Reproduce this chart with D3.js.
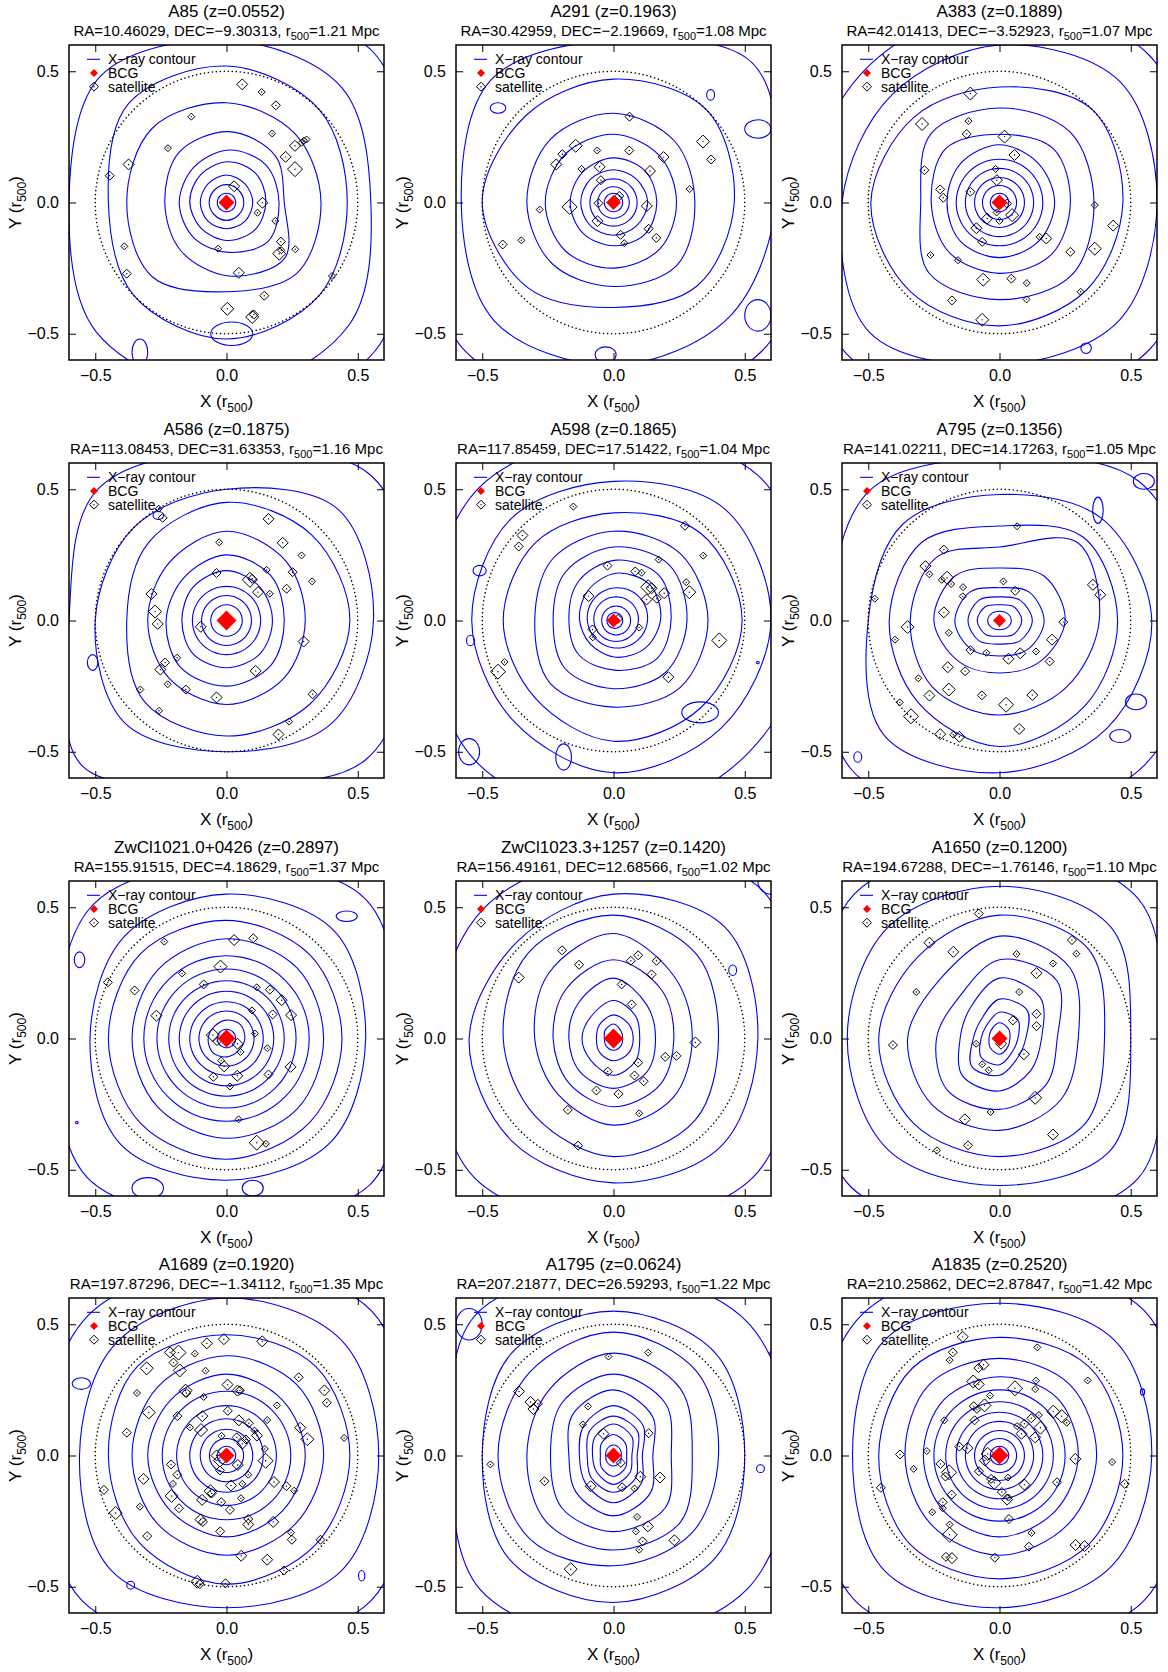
<!doctype html>
<html>
  <head>
    <meta charset="utf-8">
    <title>Cluster X-ray contours</title>
    <script src="https://cdnjs.cloudflare.com/ajax/libs/d3/7.8.5/d3.min.js"></script>
    <style>
      body { margin: 0; background: #fff; }
      svg text { font-family: "Liberation Sans", Arial, sans-serif; fill: #000; }
    </style>
  </head>
  <body>
    <div id="chart"></div>
    <script>
      // panel header values
      const clusterNames = ["A85", "A291", "A383", "A586", "A598", "A795",
        "ZwCl1021.0+0426", "ZwCl1023.3+1257", "A1650", "A1689", "A1795", "A1835"];
      const redshifts = ["0.0552", "0.1963", "0.1889", "0.1875", "0.1865", "0.1356",
        "0.2897", "0.1420", "0.1200", "0.1920", "0.0624", "0.2520"];
      const raValues = ["10.46029", "30.42959", "42.01413", "113.08453", "117.85459", "141.02211",
        "155.91515", "156.49161", "194.67288", "197.87296", "207.21877", "210.25862"];
      const decValues = ["−9.30313", "−2.19669", "−3.52923", "31.63353", "17.51422", "14.17263",
        "4.18629", "12.68566", "−1.76146", "−1.34112", "26.59293", "2.87847"];
      const r500Values = ["1.21", "1.08", "1.07", "1.16", "1.04", "1.05",
        "1.37", "1.02", "1.10", "1.35", "1.22", "1.42"];
      const bcgSizes = [8, 7.5, 8, 10, 7, 6.5, 9, 10, 8, 8, 8, 9];
      const tickValues = [-0.5, 0, 0.5];

      // satellites: [x, y, size class]
      const sat85 = [[0.06,0.45,2],[0.134,0.421,1],[0.188,0.37,1.5],[-0.134,0.327,1],[0.174,0.263,1],
        [0.261,0.216,2],[0.286,0.228,1],[0.295,0.235,1],[0.305,0.24,1],[-0.223,0.207,1],[0.225,0.174,2],
        [0.261,0.127,3],[-0.373,0.145,2],[-0.445,0.102,1.5],[0.029,0.062,2],[0.137,-0.001,2],
        [0.118,-0.039,1],[0.186,-0.07,1],[0.207,-0.149,1.5],[0.201,-0.195,2.5],[0.209,-0.182,1],
        [0.262,-0.178,1],[-0.032,-0.176,1],[-0.389,-0.167,1],[-0.38,-0.271,1.5],[0.047,-0.268,2],
        [0.402,-0.28,1],[0.144,-0.355,1.5],[0.003,-0.405,2.5],[0.098,-0.436,2.5],[0.104,-0.427,1.5]];
      const sat291 = [[0.061,0.327,1.5],[-0.144,0.216,2.5],[-0.195,0.184,1.5],[-0.062,0.198,1],
        [0.06,0.198,1.5],[0.191,0.173,2],[-0.218,0.145,2],[-0.122,0.128,1],[-0.053,0.136,2],
        [0.139,0.12,2],[-0.048,0.085,1.5],[0.341,0.232,2.5],[0.372,0.164,1.5],[0.29,0.051,1],
        [0.022,0.025,1.5],[-0.057,-0.003,1.5],[-0.167,-0.017,3],[-0.281,-0.027,1],[0.127,-0.013,2],
        [-0.061,-0.071,2],[0.134,-0.1,1.5],[0.027,-0.123,1.5],[0.041,-0.155,1],[0.163,-0.135,1.5],
        [-0.422,-0.16,1.5],[-0.351,-0.144,1]];
      const sat383 = [[-0.111,0.415,2.5],[-0.295,0.299,2.5],[-0.118,0.31,1],[-0.125,0.261,1.5],
        [0.019,0.251,2.5],[0.057,0.181,2],[-0.286,0.123,1.5],[-0.015,0.128,1],[-0.01,0.085,2],
        [-0.226,0.05,1.5],[-0.214,0.018,1.5],[-0.111,0.041,1.5],[0.029,-0.004,1.5],[-0.011,-0.038,1],
        [-0.047,-0.061,2],[0.048,-0.048,2.5],[0,-0.07,1],[-0.088,-0.098,2],[-0.066,-0.15,1.5],
        [0.153,-0.131,1],[0.178,-0.137,2],[0.363,-0.01,1],[0.433,-0.088,2],[0.363,-0.176,2.5],
        [0.27,-0.188,1.5],[-0.263,-0.2,1],[-0.158,-0.22,1],[-0.062,-0.294,2.5],[0.045,-0.29,1.5],
        [0.104,-0.307,1],[0.103,-0.369,1],[0.309,-0.34,1],[-0.181,-0.373,1.5],[-0.066,-0.447,2.5]];
      const sat586 = [[-0.258,0.426,1],[-0.243,0.391,1.5],[0.16,0.387,2],[0.214,0.296,2],
        [-0.028,0.298,1],[0.286,0.248,1],[-0.038,0.181,1.5],[0.153,0.193,1],[0.252,0.184,1.5],
        [0.089,0.155,3],[0.098,0.159,1.5],[0.326,0.149,1],[0.229,0.121,1.5],[0.12,0.108,2],
        [0.165,0.102,1],[-0.286,0.101,2],[-0.272,0.034,2.5],[-0.262,-0.013,2],[-0.098,-0.024,2],
        [0.294,-0.08,2],[-0.234,-0.16,1.5],[-0.188,-0.142,1],[-0.252,-0.187,2],[0.111,-0.192,2],
        [-0.224,-0.243,1],[-0.155,-0.263,1.5],[-0.038,-0.293,2],[-0.328,-0.263,1],[-0.257,-0.344,1],
        [0.328,-0.281,1.5],[0.239,-0.385,1],[0.198,-0.434,2]];
      const sat598 = [[-0.153,0.434,1],[-0.347,0.324,2],[-0.361,0.282,1.5],[0.272,0.361,1.5],
        [0.342,0.247,1],[0.172,0.232,1],[-0.023,0.209,1.5],[0.083,0.187,1.5],[0.107,0.182,1],
        [0.277,0.146,1],[0.132,0.127,3],[0.145,0.123,2],[0.193,0.104,2],[0.289,0.108,2.5],
        [-0.095,0.093,2],[0.126,0.08,2],[0.165,0.083,1.5],[0.017,0.006,1.5],[-0.08,-0.034,1.5],
        [-0.079,-0.064,1],[0.098,-0.027,1],[0.403,-0.076,3],[-0.415,-0.158,1],[-0.44,-0.195,3],
        [0.209,-0.216,2]];
      const sat795 = [[0.067,0.359,1],[-0.212,0.27,1.5],[-0.282,0.207,2],[-0.267,0.176,1],
        [-0.2,0.163,2.5],[-0.22,0.155,1],[-0.184,0.139,1],[-0.139,0.127,1],[-0.14,0.092,1],
        [0.015,0.149,1],[0.06,0.113,1.5],[0.356,0.136,2],[0.384,0.098,2],[-0.475,0.083,1],
        [-0.212,0.031,2],[0.243,-0.006,1.5],[-0.35,-0.025,2.5],[-0.193,-0.047,1],[-0.398,-0.073,1],
        [0.2,-0.073,2],[-0.111,-0.113,1.5],[-0.05,-0.123,1],[0.034,-0.146,2],[0.079,-0.125,2],
        [0.139,-0.118,1],[0.191,-0.156,1.5],[-0.197,-0.178,2],[-0.131,-0.193,1.5],[-0.309,-0.22,1],
        [-0.193,-0.263,2.5],[-0.267,-0.286,2],[-0.067,-0.285,1.5],[0.125,-0.284,2],[0.025,-0.321,3],
        [-0.38,-0.312,1],[-0.337,-0.365,3],[0.075,-0.413,2],[-0.226,-0.433,2],[-0.176,-0.435,1],
        [-0.153,-0.443,2]];
      const sat1021 = [[0.029,0.375,2],[0.102,0.382,1.5],[-0.237,0.369,1],[-0.023,0.274,2.5],
        [-0.169,0.248,1],[-0.087,0.206,1.5],[-0.452,0.214,1.5],[-0.35,0.183,1.5],[0.115,0.195,1],
        [0.165,0.186,1.5],[0.21,0.146,2],[0.097,0.107,1],[0.176,0.092,1.5],[0.246,0.089,2],
        [-0.267,0.087,2],[0.108,0.019,1],[-0.052,0.013,2.5],[-0.036,-0.01,1.5],[0.042,-0.02,2],
        [0.053,-0.051,1],[0.156,-0.037,1],[-0.02,-0.084,1],[-0.009,-0.106,2],[0.244,-0.108,2],
        [-0.05,-0.146,1.5],[0.041,-0.142,2],[0.16,-0.137,1.5],[0.013,-0.183,1],[0.046,-0.308,1],
        [0.115,-0.397,3],[0.15,-0.401,1]];
      const sat1023 = [[-0.196,0.336,1.5],[-0.131,0.281,1.5],[0.094,0.317,1.5],[0.066,0.296,1.5],
        [0.164,0.296,1.5],[0.145,0.244,1.5],[-0.361,0.232,2],[0.031,0.206,1.5],[0.069,0.13,1.5],
        [0.312,-0.015,2],[0.197,-0.07,1.5],[0.24,-0.066,1.5],[0.094,-0.092,1.5],[-0.022,-0.126,1.5],
        [0.08,-0.141,1.5],[0.115,-0.163,1.5],[-0.065,-0.198,1.5],[0.019,-0.211,1.5],[-0.174,-0.272,1.5],
        [0.098,-0.285,1],[-0.135,-0.408,1.5]];
      const sat1650 = [[-0.079,0.476,1.5],[-0.267,0.365,2],[-0.176,0.33,2],[0.276,0.375,1.5],
        [0.293,0.323,1],[0.065,0.322,1],[0.204,0.286,1],[0.141,0.249,2],[-0.317,0.177,1],
        [0.075,0.177,1],[0.141,0.094,1.5],[0.051,0.069,1.5],[0.141,0.047,1.5],[-0.406,-0.025,1.5],
        [-0.089,-0.02,1],[0.006,-0.02,2],[0.093,-0.06,2],[-0.066,-0.098,1],[-0.041,-0.121,1],
        [0.136,-0.226,2.5],[-0.034,-0.28,1],[-0.132,-0.308,2],[0.204,-0.366,2],[-0.12,-0.407,1.5],
        [-0.238,-0.426,1]];
      const sat1689 = [[-0.01,0.443,2],[-0.075,0.427,2],[0.136,0.435,2],[-0.215,0.393,2],
        [-0.183,0.392,3],[-0.121,0.388,1],[-0.202,0.354,1.5],[-0.304,0.332,2.5],[-0.178,0.324,2.5],
        [-0.08,0.323,1],[0.275,0.298,1.5],[0.004,0.27,2],[-0.156,0.247,2.5],[-0.153,0.238,1.5],
        [0.042,0.247,2],[0.051,0.248,1.5],[-0.341,0.238,1],[-0.087,0.223,1],[0.373,0.248,2],
        [0.382,0.201,1.5],[0.192,0.191,1],[0.005,0.17,1.5],[-0.296,0.164,2.5],[-0.187,0.15,1.5],
        [-0.092,0.15,2],[0.047,0.134,2],[0.085,0.123,1.5],[0.155,0.135,1],[-0.139,0.107,1],
        [-0.097,0.097,2.5],[0.107,0.095,1],[0.116,0.076,2],[0.281,0.106,2],[0.308,0.062,2.5],
        [-0.38,0.087,1.5],[0.448,0.067,1],[-0.019,0.075,1],[0.039,0.069,1.5],[0.074,0.061,1.5],
        [0.06,0.045,2],[0.146,0.025,1],[0.149,-0.02,3],[-0.038,0,2],[-0.025,-0.019,2.5],
        [-0.025,-0.057,1.5],[0.043,-0.036,2],[-0.211,-0.034,1.5],[-0.187,-0.073,1.5],[-0.316,-0.089,2],
        [0.083,-0.073,1],[-0.204,-0.108,1],[0.017,-0.114,2],[0.06,-0.108,1],[0.181,-0.101,2],
        [0.228,-0.117,1.5],[0.258,-0.134,1],[-0.467,-0.131,1.5],[-0.209,-0.154,2.5],[-0.061,-0.136,2.5],
        [-0.056,-0.144,1.5],[-0.093,-0.169,2],[-0.02,-0.178,1.5],[0.055,-0.163,1],[-0.33,-0.195,1],
        [-0.181,-0.201,1.5],[0.013,-0.207,1.5],[-0.422,-0.219,2.5],[-0.099,-0.244,2],[-0.09,-0.253,1.5],
        [0.083,-0.242,1.5],[0.083,-0.263,2],[0.178,-0.253,2],[-0.024,-0.289,1.5],[0.246,-0.294,1],
        [0.249,-0.321,1.5],[-0.302,-0.307,1.5],[0.358,-0.321,1.5],[0.056,-0.382,2],[0.155,-0.397,2],
        [0.219,-0.438,1.5],[-0.111,-0.481,2.5],[-0.102,-0.49,1.5],[-0.004,-0.487,1.5]];
      const sat1795 = [[-0.019,0.377,1],[0.132,0.392,1],[-0.36,0.244,2],[-0.316,0.204,2],
        [-0.305,0.177,2],[-0.288,0.197,1.5],[-0.097,0.187,1],[-0.117,0.118,1],[-0.038,0.083,2],
        [0.134,0.085,1.5],[0.028,-0.028,1.5],[-0.469,-0.034,1],[-0.263,-0.098,1.5],[-0.087,-0.117,2],
        [0.033,-0.121,1.5],[0.08,-0.126,1],[0.102,-0.081,2],[0.177,-0.084,2],[0.09,-0.234,1],
        [0.131,-0.27,2],[0.085,-0.289,1],[0.111,-0.327,1.5],[0.098,-0.359,1],[0.232,-0.323,2],
        [-0.163,-0.433,2.5]];
      const sat1835 = [[-0.14,0.452,2],[-0.178,0.393,1.5],[-0.19,0.363,1],[0.144,0.412,1],
        [-0.061,0.346,2],[-0.08,0.333,1.5],[-0.1,0.282,2.5],[-0.079,0.271,2],[0.059,0.256,3],
        [0.139,0.285,1],[0.136,0.253,1],[0.336,0.286,1],[-0.036,0.228,1],[-0.057,0.191,2.5],
        [-0.098,0.188,1.5],[-0.086,0.174,1],[-0.21,0.134,1],[-0.095,0.134,1.5],[0.205,0.167,2.5],
        [0.237,0.15,2.5],[0.256,0.125,1],[0.121,0.142,1.5],[0.15,0.154,1],[0.095,0.121,1.5],
        [0.067,0.112,1],[0.156,0.106,2.5],[0.084,0.083,2],[0.136,0.069,2],[-0.153,0.034,1.5],
        [-0.122,0.028,2],[-0.277,0.017,1],[-0.379,0.004,1.5],[-0.045,0.006,2.5],[-0.056,-0.019,2],
        [0.289,-0.013,2],[0.429,-0.025,1],[-0.327,-0.051,1],[-0.225,-0.032,1.5],[-0.192,-0.064,3],
        [-0.206,-0.08,1.5],[-0.078,-0.06,1.5],[-0.032,-0.089,1.5],[-0.02,-0.104,2.5],[0.032,-0.084,1],
        [0.095,-0.111,2],[0.219,-0.102,1.5],[0.477,-0.108,1.5],[-0.452,-0.123,1.5],[-0.182,-0.149,1.5],
        [0.009,-0.139,1.5],[0.029,-0.168,2],[0.034,-0.16,1],[-0.216,-0.178,1.5],[-0.216,-0.201,1],
        [-0.256,-0.216,1],[0.036,-0.242,1.5],[-0.19,-0.263,1],[-0.19,-0.302,3],[0.122,-0.295,1],
        [0.112,-0.347,1.5],[0.29,-0.341,2],[0.324,-0.345,2],[-0.204,-0.386,1.5],[-0.181,-0.391,2],
        [-0.018,-0.389,1.5]];

      // X-ray contours: [cx, cy, radii going round from east, counter-clockwise]
      const con85 = [[0,0,.035],[0,0,.066,.066,.068,.066,.066,.066,.068,.066],[0,0,.1,.1,.105,.1,.1,.1,.1,.1],
        [0.005,0.005,.145,.15,.15,.145,.145,.145,.15,.15],[0.01,0,.19,.2,.2,.19,.19,.19,.19,.21],
        [0.01,0,.21,.25,.27,.27,.245,.26,.28,.3],[0,0,.36,.37,.38,.4,.38,.4,.34,.38],
        [0,0,.46,.5,.52,.53,.45,.5,.52,.5],[0,0,.55,.62,.62,.68,.6,.7,.72,.66],
        [0,0,.68,.8,.75,.85,.72,.85,.8,.8]];
      const con291 = [[0,0,.035],[0,0,.06],[0,0,.09],[0,0,.13,.125,.125,.125,.125,.125,.125,.125],
        [0,0,.165,.17,.17,.165,.165,.165,.165,.17],[0,0,.24,.25,.26,.26,.26,.26,.25,.25],
        [0,0,.31,.33,.34,.34,.33,.33,.32,.34],[0,0,.46,.5,.47,.47,.5,.46,.4,.45],
        [0,0,.62,.75,.62,.66,.58,.64,.62,.62],[0,0,.75,.85,.78,.85,.72,.8,.75,.8]];
      const con383 = [[0,0,.035],[0,0,.065],[0,0,.095],[0,0,.13],[0,0,.165],
        [0,0,.21,.21,.22,.21,.2,.21,.21,.21],[0,0,.27,.29,.26,.29,.26,.27,.27,.28],
        [0,0,.36,.38,.36,.37,.3,.38,.37,.39],[0,0,.47,.5,.44,.46,.49,.48,.47,.47],
        [0,0,.6,.65,.6,.58,.6,.7,.62,.64],[0,0,.75,.8,.75,.72,.74,.82,.76,.8]];
      const con586 = [[0,0,.06],[0,0,.095],[0,0,.13],[0,0,.175,.18,.19,.18,.17,.18,.18,.18],
        [0,0,.22,.24,.25,.23,.23,.25,.25,.24],[0,0,.3,.32,.34,.31,.3,.31,.32,.31],
        [0,0,.47,.46,.45,.42,.38,.44,.44,.45],[0,0,.56,.6,.5,.5,.5,.55,.5,.56],
        [0,0,.72,.78,.65,.7,.6,.78,.62,.75]];
      const con598 = [[0.005,0,.03],[0.01,0,.055],[0.01,0.005,.085],[0.015,0.01,.115],
        [0.01,0.01,.17,.18,.17,.15,.14,.14,.15,.16],[0.01,0.01,.21,.23,.22,.2,.18,.2,.2,.22],
        [0,0,.28,.3,.28,.26,.23,.26,.26,.28],[0,0,.36,.36,.34,.33,.3,.34,.33,.36],
        [0,0,.49,.47,.41,.42,.42,.42,.46,.47],[0,0,.6,.6,.53,.55,.54,.54,.58,.58],
        [0,0,.75,.78,.7,.72,.7,.75,.75,.72]];
      const con795 = [[0,0,.045,.04,.035,.04,.045,.04,.035,.04],[0,0,.085,.075,.06,.075,.085,.075,.06,.075],
        [0,0,.125,.11,.09,.11,.12,.11,.09,.11],[0,-0.005,.17,.16,.13,.16,.17,.15,.13,.15],
        [0,0,.25,.24,.2,.24,.25,.22,.2,.22],[0,0,.38,.42,.28,.34,.34,.36,.36,.36],
        [0,0,.45,.45,.36,.42,.42,.44,.48,.46],[0,0,.58,.55,.48,.52,.5,.62,.58,.58],
        [0,0,.75,.75,.62,.7,.65,.8,.75,.78]];
      const con1021 = [[0,0,.035],[0,0,.07,.075,.07,.065,.07,.075,.07,.065],[0,0,.105],
        [0,0,.14],[0,0,.18],[0,0,.22],[0,0,.265],[0,0,.315],[0,0,.37,.38,.38,.37,.36,.37,.38,.38],
        [0,0,.44,.45,.45,.46,.45,.46,.46,.45],[0,0,.53,.58,.55,.55,.52,.57,.54,.56],
        [0,0,.66,.75,.67,.72,.65,.75,.68,.78]];
      const con1023 = [[0,0,.035,.04,.055,.045,.035,.04,.045,.04],[0,0,.075,.08,.09,.075,.065,.075,.085,.08],
        [0,0,.1,.12,.145,.12,.12,.12,.14,.12],[0,0,.16,.18,.23,.19,.17,.18,.19,.18],
        [0,0,.23,.26,.3,.26,.23,.24,.26,.25],[0,0,.3,.33,.4,.35,.3,.3,.33,.32],
        [0,0,.4,.45,.47,.46,.42,.42,.45,.44],[0,0,.55,.6,.55,.52,.55,.55,.55,.58],
        [0,0,.7,.8,.7,.7,.68,.75,.7,.75]];
      const con1650 = [[0,0,.04,.05,.06,.045,.04,.05,.06,.045],[0,0,.07,.1,.1,.07,.07,.1,.1,.07],
        [0,0,.1,.15,.15,.1,.1,.15,.14,.1],[0,0,.16,.22,.23,.16,.15,.2,.2,.17],
        [0,0,.22,.31,.3,.22,.24,.28,.27,.25],[0,0,.3,.38,.39,.32,.35,.36,.35,.33],
        [0,0,.4,.48,.47,.44,.46,.46,.45,.46],[0,0,.5,.6,.58,.6,.58,.6,.56,.6],
        [0,0,.62,.75,.72,.78,.7,.8,.7,.75]];
      const con1689 = [[0,0,.035],[0,0,.065],[0,0,.1],[0,0,.14],[0,0,.19],[0,0,.245],
        [0,0,.3,.3,.31,.3,.3,.3,.31,.3],[0,0,.37,.38,.38,.37,.36,.37,.38,.37],
        [0,0,.47,.48,.46,.48,.45,.47,.49,.48],[0,0,.58,.62,.6,.6,.56,.62,.58,.62],
        [0,0,.7,.78,.72,.75,.7,.78,.72,.78]];
      const con1795 = [[0,0,.03,.035,.04,.035,.03,.035,.04,.035],[0,0,.05,.065,.08,.065,.05,.065,.08,.065],
        [0,0,.07,.1,.12,.1,.08,.09,.11,.09],[0,0,.09,.13,.15,.13,.1,.12,.14,.12],
        [0,0,.11,.16,.19,.16,.13,.15,.18,.15],[0,0,.15,.21,.25,.22,.17,.2,.23,.2],
        [0,0,.22,.28,.31,.28,.24,.28,.29,.28],[0,0,.3,.36,.39,.35,.33,.36,.36,.36],
        [0,0,.4,.45,.47,.45,.44,.45,.42,.42],[0,0,.5,.55,.55,.55,.5,.56,.56,.55],
        [0,0,.68,.72,.7,.75,.62,.72,.7,.72]];
      const con1835 = [[0,0,.035],[0,0,.065],[0,0,.095],[0,0,.13],[0,0,.165],[0,0,.205],
        [0,0,.25],[0,0,.3,.31,.3,.3,.29,.3,.31,.3],[0,0,.37,.38,.37,.38,.36,.37,.38,.37],
        [0,0,.47,.48,.45,.47,.46,.48,.47,.48],[0,0,.58,.62,.58,.62,.56,.62,.58,.6],
        [0,0,.7,.78,.72,.75,.7,.78,.72,.78]];

      // small isolated contours: [cx, cy, rx, ry]
      const isl85 = [[0.02,-0.5,.08,.045],[-0.33,-0.57,.03,.05]];
      const isl291 = [[-0.44,0.36,.03,.02],[0.37,0.41,.015,.02],[0.55,0.28,.05,.035],[0.55,-0.43,.05,.06],[-0.03,-0.58,.04,.03]];
      const isl383 = [[0.33,-0.555,.02,.02]];
      const isl586 = [[-0.51,-0.16,.02,.03],[-0.26,0.4,.02,.015]];
      const isl598 = [[-0.51,0.19,.025,.02],[-0.545,-0.076,.015,.02],[0.55,-0.16,.005,.005],
        [-0.19,-0.52,.03,.05],[0.33,-0.35,.07,.04],[-0.55,-0.5,.04,.05]];
      const isl795 = [[0.52,-0.31,.04,.03],[0.46,-0.44,.04,.025],[-0.54,-0.52,.015,.02],[0.375,0.42,.02,.05],[0.55,0.53,.04,.03]];
      const isl1021 = [[0.458,0.466,.04,.02],[-0.56,0.3,.02,.03],[-0.3,-0.57,.06,.04],[0.1,-0.57,.04,.03],[-0.57,-0.32,.005,.005]];
      const isl1023 = [[0.454,0.26,.015,.02],[0.6,0.6,.05,.05]];
      const isl1650 = [];
      const isl1689 = [[-0.553,0.274,.035,.022],[-0.365,-0.494,.015,.015],[0.515,-0.458,.012,.02]];
      const isl1795 = [[0.56,-0.05,.015,.015],[0.6,0.39,.005,.005],[-0.55,0.5,.05,.06]];
      const isl1835 = [[0.545,0.242,.008,.012]];

      const satellites = [sat85, sat291, sat383, sat586, sat598, sat795, sat1021, sat1023, sat1650, sat1689, sat1795, sat1835];
      const contours = [con85, con291, con383, con586, con598, con795, con1021, con1023, con1650, con1689, con1795, con1835];
      const islands = [isl85, isl291, isl383, isl586, isl598, isl795, isl1021, isl1023, isl1650, isl1689, isl1795, isl1835];

      const colLeft = [69, 456, 842], rowTop = [45, 463, 881, 1298], size = 315;
      const blue = '#0000ee';

      const svg = d3.select('#chart').append('svg')
        .attr('width', 1168).attr('height', 1672);

      const x = d3.scaleLinear().domain([-0.6, 0.6]).range([0, size]);
      const y = d3.scaleLinear().domain([-0.6, 0.6]).range([size, 0]);

      const contourLine = d3.line()
        .x(d => x(d[0])).y(d => y(d[1]))
        .curve(d3.curveCatmullRomClosed.alpha(0.5));

      // a single radius is a plain circle: sample it finely so it stays round
      const ringPoints = c => {
        let r = c.slice(2);
        if (r.length == 1) r = d3.range(32).map(() => r[0]);
        return r.map((v, i) => {
          const a = i * 2 * Math.PI / r.length;
          return [c[0] + v * Math.cos(a), c[1] + v * Math.sin(a)];
        });
      };

      const diamond = h => `M0,${-h}L${h},0L0,${h}L${-h},0Z`;

      clusterNames.forEach((name, i) => {
        const left = colLeft[i % 3], top = rowTop[Math.floor(i / 3)];
        const g = svg.append('g').attr('transform', `translate(${left},${top})`);

        g.append('clipPath').attr('id', 'clip' + i)
          .append('rect').attr('width', size).attr('height', size);

        const plot = g.append('g').attr('clip-path', `url(#clip${i})`);

        // contours
        plot.selectAll('path.ring')
          .data(contours[i])
          .join('path')
          .attr('class', 'ring')
          .attr('d', c => contourLine(ringPoints(c)))
          .attr('fill', 'none')
          .attr('stroke', blue)
          .attr('stroke-width', 1.1);

        plot.selectAll('ellipse.isl')
          .data(islands[i])
          .join('ellipse')
          .attr('class', 'isl')
          .attr('cx', d => x(d[0])).attr('cy', d => y(d[1]))
          .attr('rx', d => x(d[2]) - x(0)).attr('ry', d => y(0) - y(d[3]))
          .attr('fill', 'none')
          .attr('stroke', blue)
          .attr('stroke-width', 1.1);

        // r500/2 circle
        plot.append('circle')
          .attr('cx', x(0)).attr('cy', y(0))
          .attr('r', x(0.5) - x(0))
          .attr('fill', 'none')
          .attr('stroke', '#000')
          .attr('stroke-width', 1.5)
          .attr('stroke-linecap', 'round')
          .attr('stroke-dasharray', '0.1,3.9');

        // satellites
        const sat = plot.selectAll('g.sat')
          .data(satellites[i])
          .join('g')
          .attr('class', 'sat')
          .attr('transform', d => `translate(${x(d[0])},${y(d[1])})`);
        sat.append('path')
          .attr('d', d => diamond(1.5 + 2 * d[2]))
          .attr('fill', 'none')
          .attr('stroke', '#000')
          .attr('stroke-width', 1);
        sat.append('circle').attr('r', 0.7).attr('fill', '#000');

        // BCG
        plot.append('path')
          .attr('transform', `translate(${x(0)},${y(0)})`)
          .attr('d', diamond(bcgSizes[i]))
          .attr('fill', '#ff0000');

        // legend
        const lg = g.append('g');
        lg.append('line').attr('x1', 18).attr('x2', 31).attr('y1', 14.3).attr('y2', 14.3)
          .attr('stroke', blue).attr('stroke-width', 1.1);
        lg.append('path').attr('transform', 'translate(25,28)').attr('d', diamond(4)).attr('fill', '#ff0000');
        lg.append('path').attr('transform', 'translate(25,41.7)').attr('d', diamond(4.5))
          .attr('fill', 'none').attr('stroke', '#000').attr('stroke-width', 1);
        lg.append('circle').attr('cx', 25).attr('cy', 41.7).attr('r', 0.7).attr('fill', '#000');
        lg.selectAll('text')
          .data(['X−ray contour', 'BCG', 'satellite'])
          .join('text')
          .attr('x', 39)
          .attr('y', (d, k) => 14.3 + k * 13.7)
          .attr('dy', '0.35em')
          .style('font-size', '14px')
          .text(d => d);

        // frame and inward ticks
        g.append('rect').attr('width', size).attr('height', size)
          .attr('fill', 'none').attr('stroke', '#000').attr('stroke-width', 1.5);

        g.append('g').attr('transform', `translate(0,${size})`)
          .call(d3.axisBottom(x).tickValues(tickValues).tickSize(-7).tickPadding(10).tickFormat(d3.format('.1f')));
        g.append('g')
          .call(d3.axisLeft(y).tickValues(tickValues).tickSize(-7).tickPadding(10).tickFormat(d3.format('.1f')));
        g.append('g')
          .call(d3.axisTop(x).tickValues(tickValues).tickSize(-7).tickFormat(''));
        g.append('g').attr('transform', `translate(${size},0)`)
          .call(d3.axisRight(y).tickValues(tickValues).tickSize(-7).tickFormat(''));
        g.selectAll('.domain').remove();
        g.selectAll('.tick line').attr('stroke', '#000').attr('stroke-width', 1);
        g.selectAll('.tick text').style('font-size', '16px')
          .style('font-family', '"Liberation Sans", Arial, sans-serif').attr('fill', '#000');

        // titles
        g.append('text')
          .attr('x', size / 2).attr('y', -28)
          .attr('text-anchor', 'middle')
          .style('font-size', '17px')
          .text(`${name} (z=${redshifts[i]})`);

        const sub = g.append('text')
          .attr('x', size / 2).attr('y', -9)
          .attr('text-anchor', 'middle')
          .style('font-size', '15px');
        sub.append('tspan').text(`RA=${raValues[i]}, DEC=${decValues[i]}, r`);
        sub.append('tspan').attr('dy', 4).style('font-size', '11px').text('500');
        sub.append('tspan').attr('dy', -4).text(`=${r500Values[i]} Mpc`);

        // axis labels
        const xl = g.append('text')
          .attr('x', size / 2).attr('y', size + 47)
          .attr('text-anchor', 'middle')
          .style('font-size', '17px');
        xl.append('tspan').text('X (r');
        xl.append('tspan').attr('dy', 5).style('font-size', '12px').text('500');
        xl.append('tspan').attr('dy', -5).text(')');

        const yl = g.append('text')
          .attr('transform', `translate(-48,${size / 2}) rotate(-90)`)
          .attr('text-anchor', 'middle')
          .style('font-size', '17px');
        yl.append('tspan').text('Y (r');
        yl.append('tspan').attr('dy', 5).style('font-size', '12px').text('500');
        yl.append('tspan').attr('dy', -5).text(')');
      });
    </script>
  </body>
</html>
